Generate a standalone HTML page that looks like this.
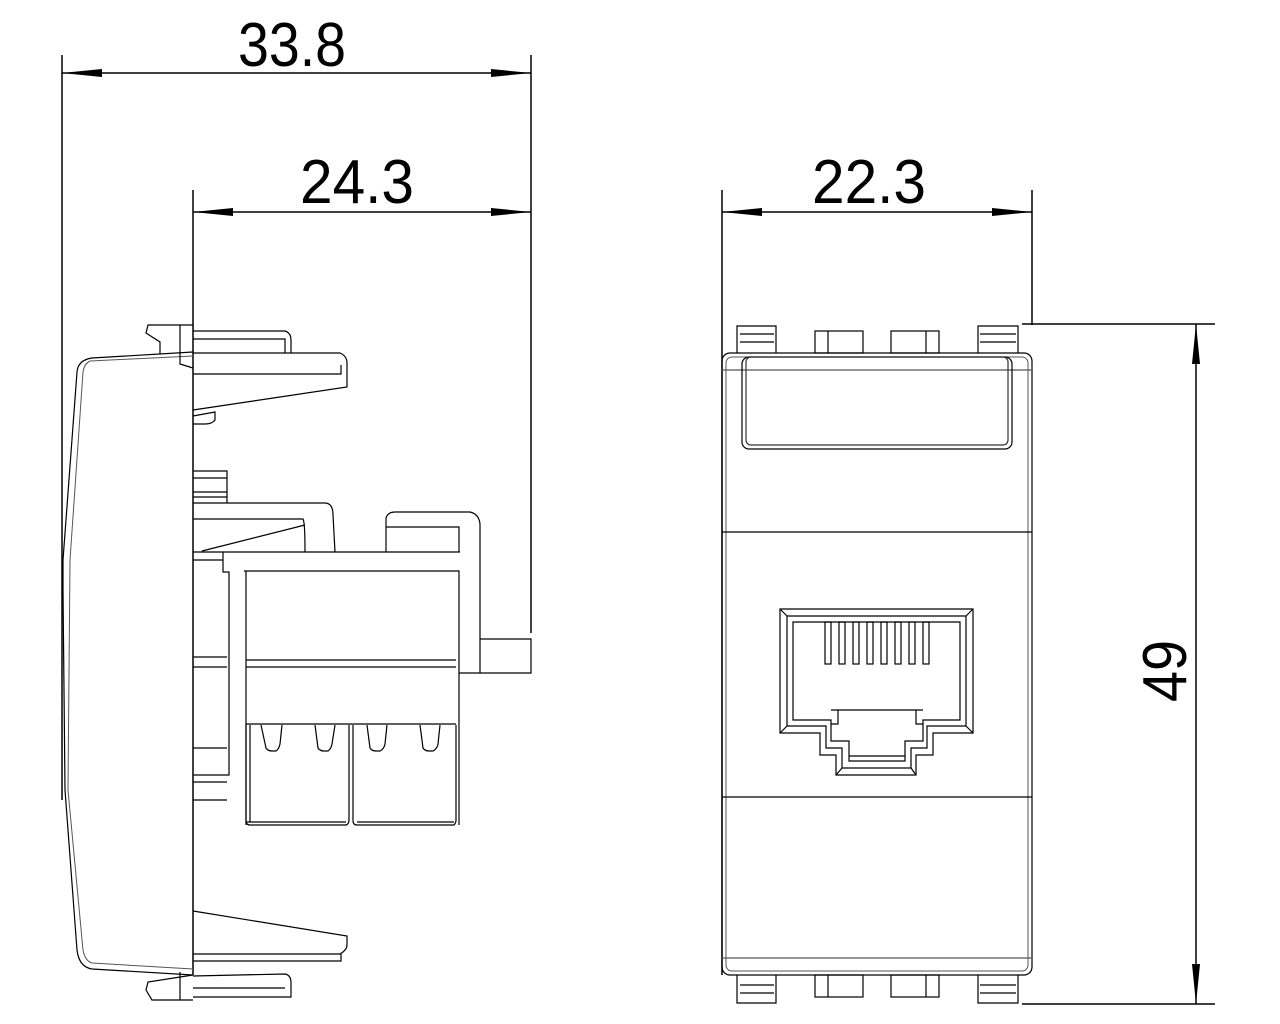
<!DOCTYPE html>
<html><head><meta charset="utf-8"><style>html,body{margin:0;padding:0;background:#fff}svg{display:block}</style></head>
<body>
<svg width="1280" height="1024" viewBox="0 0 1280 1024" xmlns="http://www.w3.org/2000/svg">
<defs>
<marker id="a" viewBox="0 0 40 10" refX="40" refY="5" markerWidth="40" markerHeight="10" markerUnits="userSpaceOnUse" orient="auto-start-reverse"><path d="M0,1 L40,5 L0,9 Z" fill="#000"/></marker>
</defs>
<g fill="none" stroke="#000" stroke-width="1.5">
<line x1="62" y1="55" x2="62" y2="800"/>
<line x1="531" y1="55" x2="531" y2="633"/>
<line x1="193" y1="190" x2="193" y2="975"/>
<line x1="62" y1="73" x2="531" y2="73" marker-start="url(#a)" marker-end="url(#a)"/>
<line x1="193" y1="212" x2="531" y2="212" marker-start="url(#a)" marker-end="url(#a)"/>
</g>
<g fill="none" stroke="#000" stroke-width="1.2">
<path d="M193,352 L92,358 Q78,360 77,372 L63,560 L63,590 L65,790 L77,950 Q79,967 92,969 L193,975"/>
<path d="M193,356 L90,361 Q84,364 83,372 L70,560 L68,790 L83,950 Q85,961 92,963 L193,969" stroke="#555" stroke-width="1"/>
<path d="M193,325 L148,325 L146,333 L160,342 L160,354"/>
<path d="M180,325 L180,364 L193,368"/>
<path d="M193,331 L285,331 Q291,333 291,340 L291,353"/>
<path d="M193,339 L285,339 L285,353"/>
<path d="M193,353 L340,353 Q347,356 347,363 L347,387 L193,410"/>
<path d="M193,374 L341,374 L341,365"/>
<path d="M193,416 L215,412 L215,420 Q212,424 205,424 L193,424"/>
<path d="M193,975 L148,982 L146,990 L152,1000 L193,1000"/>
<path d="M180,972 L180,1000"/>
<path d="M193,976 L285,974 Q291,975 291,983 L291,997 L193,997"/>
<path d="M193,988 L285,988"/>
<path d="M193,954 L340,954 Q347,950 347,945 L347,936 L193,911"/>
<path d="M193,961 L341,961 L341,954"/>
<path d="M193,471 L227,471 L227,503"/>
<path d="M193,478 L227,478 M193,492 L227,492 M193,497 L227,497"/>
<path d="M193,503 L326,503 Q333,504 333,515 L335,552"/>
<path d="M193,519 L303,519 Q305,522 305,552"/>
<path d="M202,551 L305,525"/>
<path d="M193,552 L223,552 L223,572 L229,572 L229,775 L223,775 L223,775 L193,775"/>
<path d="M193,560 L223,560 M193,657 L227,657 M193,667 L227,667 M193,748 L227,748 M193,782 L227,782 M193,800 L227,800"/>
<path d="M223,552 L460,552 M244,571 L459,571 L459,825 M246,571 L246,825"/>
<path d="M246,660 L456,660 M246,667 L456,667 M246,724 L456,724"/>
<path d="M386,552 L386,518 Q388,512 395,512 L470,512 Q479,514 480,524 L480,673 L459,673"/>
<path d="M386,527 L459,527 L459,552"/>
<path d="M480,639 L531,639 L531,673 L480,673"/>
<path d="M246,724 L246,822 Q247,825 250,825 L346,825 Q349,824 349,820 L349,725"/>
<path d="M353,725 L353,822 Q354,825 357,825 L454,825 Q456,823 456,820 L456,725"/>
<path d="M250,725 L250,822 M246,822 L346,822 M357,822 L454,822"/>
<path d="M261,725 L266,748 Q268,751 272,751 L276,751 Q279,749 280,744 L282,725"/>
<path d="M315,725 L318,748 Q320,751 324,751 L328,751 Q331,749 332,744 L335,725"/>
<path d="M367,725 L370,748 Q372,751 376,751 L380,751 Q384,749 385,744 L387,725"/>
<path d="M420,725 L423,748 Q425,751 429,751 L433,751 Q437,749 438,744 L440,725"/>
<line x1="722" y1="190" x2="722" y2="975" stroke-width="1.5"/>
<line x1="1032" y1="190" x2="1032" y2="325" stroke-width="1.5"/>
<line x1="722" y1="212" x2="1032" y2="212" stroke-width="1.5" marker-start="url(#a)" marker-end="url(#a)"/>
<line x1="1022" y1="324" x2="1215" y2="324" stroke-width="1.5"/>
<line x1="1022" y1="1004" x2="1215" y2="1004" stroke-width="1.5"/>
<line x1="1196" y1="324" x2="1196" y2="1004" stroke-width="1.5" marker-start="url(#a)" marker-end="url(#a)"/>
<rect x="722" y="353" width="310" height="622" rx="8"/>
<rect x="726" y="357" width="302" height="614" rx="6" stroke="#555" stroke-width="1"/>
<line x1="722" y1="370" x2="1032" y2="370" stroke="#555"/>
<line x1="722" y1="958" x2="1032" y2="958" stroke="#555"/>
<line x1="722" y1="532" x2="1032" y2="532"/>
<line x1="722" y1="797" x2="1032" y2="797"/>
<rect x="742" y="357" width="270" height="92" rx="7"/>
<rect x="746" y="357" width="262" height="88" rx="5" stroke="#333"/>
<path d="M737,353 L737,326 L776,326 L776,353 M740,334 L774,334 M740,342 L774,342"/>
<path d="M978,353 L978,326 L1018,326 L1018,353 M980,334 L1016,334 M980,342 L1016,342"/>
<rect x="815" y="331" width="48" height="22"/><line x1="828" y1="331" x2="828" y2="353"/>
<rect x="891" y="331" width="48" height="22"/><line x1="926" y1="331" x2="926" y2="353"/>
<path d="M737,975 L737,1003 L776,1003 L776,975 M740,985 L774,985 M740,993 L774,993"/>
<path d="M978,975 L978,1003 L1018,1003 L1018,975 M980,985 L1016,985 M980,993 L1016,993"/>
<rect x="815" y="975" width="48" height="22"/><line x1="828" y1="975" x2="828" y2="997"/>
<rect x="891" y="975" width="48" height="22"/><line x1="926" y1="975" x2="926" y2="997"/>
<path d="M780,609 L973,609 L973,733 L933,733 L933,755 L916,755 L916,775 L836,775 L836,755 L820,755 L820,733 L780,733 Z"/>
<path d="M787,616 L966,616 L966,726 L927,726 L927,748 L911,748 L911,768 L842,768 L842,748 L826,748 L826,726 L787,726 Z"/>
<path d="M780,609 L787,616 M973,609 L966,616 M780,733 L787,726 M973,733 L966,726 M836,775 L842,768 M916,775 L911,768"/>
<path d="M793,622 L960,622 L960,720 L923,720 L923,741 L905,741 L905,761 L849,761 L849,741 L831,741 L831,720 L793,720 Z"/>
<path d="M831,710 L923,710 M838,710 L838,724 L831,724 M916,710 L916,724 L923,724 M849,756 L905,756"/>
<g>
<rect x="825" y="622" width="6" height="42"/><rect x="839" y="622" width="6" height="42"/><rect x="853" y="622" width="6" height="42"/><rect x="867" y="622" width="6" height="42"/>
<rect x="881" y="622" width="6" height="42"/><rect x="895" y="622" width="6" height="42"/><rect x="909" y="622" width="6" height="42"/><rect x="923" y="622" width="6" height="42"/>
</g>
</g>
<g font-family="Liberation Sans, sans-serif" font-size="62" fill="#000">
<text x="238" y="66" textLength="108" lengthAdjust="spacingAndGlyphs">33.8</text>
<text x="300" y="203" textLength="114" lengthAdjust="spacingAndGlyphs">24.3</text>
<text x="812" y="203" textLength="114" lengthAdjust="spacingAndGlyphs">22.3</text>
<text transform="translate(1186,702) rotate(-90)" textLength="62" lengthAdjust="spacingAndGlyphs">49</text>
</g>
</svg>
</body></html>
